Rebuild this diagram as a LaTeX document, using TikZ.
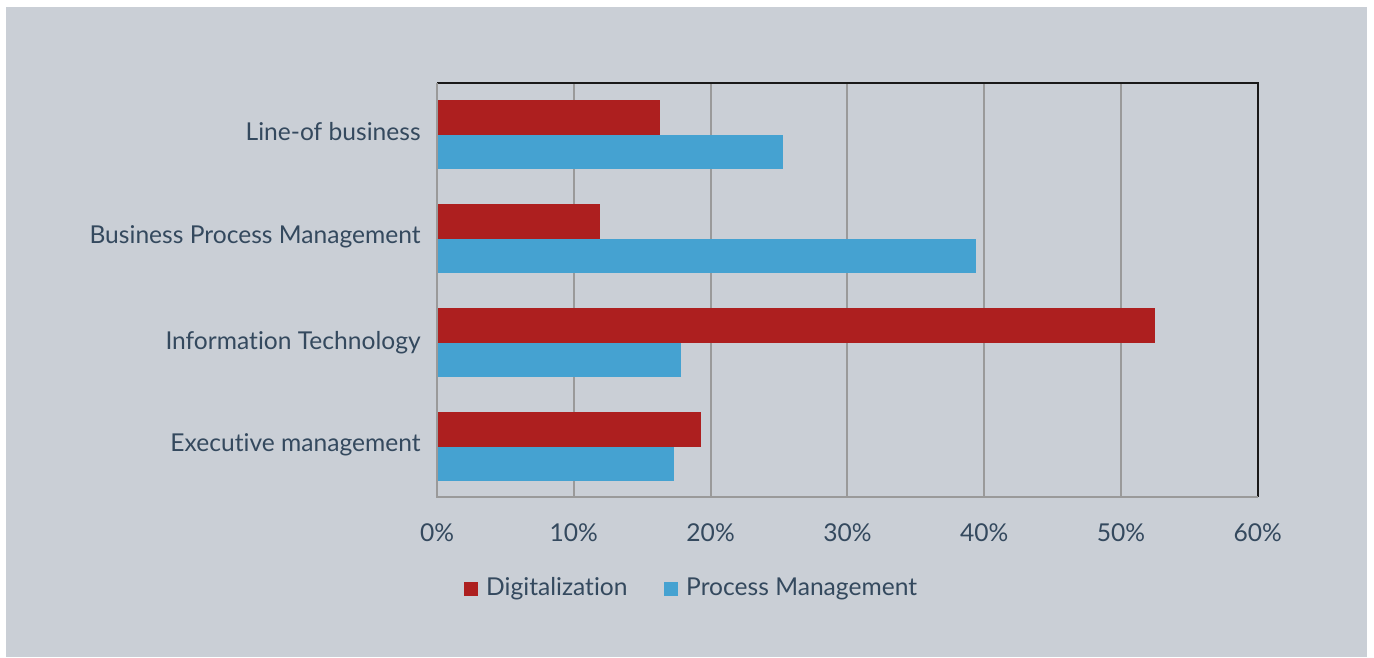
\documentclass[tikz,border=0pt]{standalone}
\usepackage{fontspec}
\setmainfont{Lato}[Ligatures=NoCommon]
\usetikzlibrary{positioning}
\definecolor{bggray}{HTML}{CACFD6}
\definecolor{digired}{HTML}{AD1F1F}
\definecolor{procblue}{HTML}{45A2D1}
\definecolor{labelink}{HTML}{34495E}
\definecolor{gridgray}{HTML}{9A9A9A}
\begin{document}
\begin{tikzpicture}[x=0.02cm, y=-0.02cm,
   lbl/.style = {text=labelink, font=\fontsize{14}{16}\selectfont, inner sep=0pt},
   key/.style = {minimum size=0.28cm, inner sep=0pt}]
   \useasboundingbox (0,0) rectangle (1374,657);
   \fill[bggray] (6,7) rectangle (1367,657);
   % grid
   \foreach \i in {1,...,5}
      \draw[gridgray, line width=1.1pt] ({437+136.8*\i},83) -- ({437+136.8*\i},497);
   % bars
   \foreach \v/\t in {16.3/100, 11.9/204, 52.5/308, 19.3/412}
      \fill[digired] (437,\t) rectangle ({437+13.68*\v},{\t+34.5});
   \foreach \v/\t in {25.3/134.5, 39.4/238.5, 17.8/342.5, 17.3/446.5}
      \fill[procblue] (437,\t) rectangle ({437+13.68*\v},{\t+34.5});
   % frame
   \draw[black!90, line width=1.2pt] (437,83) -- (1258,83) -- (1258,497);
   \draw[gridgray, line width=1.2pt] (437,83) -- (437,497) -- (1258,497);
   % categories
   \node[lbl, anchor=east] (lob) at (421,132) {Line-of business};
   \node[lbl, anchor=east] (bpm) at (421,237) {Business Process Management};
   \node[lbl, anchor=east] (it)  at (421,343) {Information Technology};
   \node[lbl, anchor=east] (exm) at (421,445) {Executive management};
   % ticks
   \foreach \i/\p in {0/0, 1/10, 2/20, 3/30, 4/40, 5/50, 6/60}
      \node[lbl] (tick\i) at ({437+136.8*\i},533) {\p\%};
   % legend
   \node[key, fill=digired] (keyD) at (471,589) {};
   \node[lbl, right=0.15cm of keyD] (txtD) {Digitalization};
   \node[key, fill=procblue] (keyP) at (671,589) {};
   \node[lbl, right=0.15cm of keyP] (txtP) {Process Management};
\end{tikzpicture}
\end{document}
